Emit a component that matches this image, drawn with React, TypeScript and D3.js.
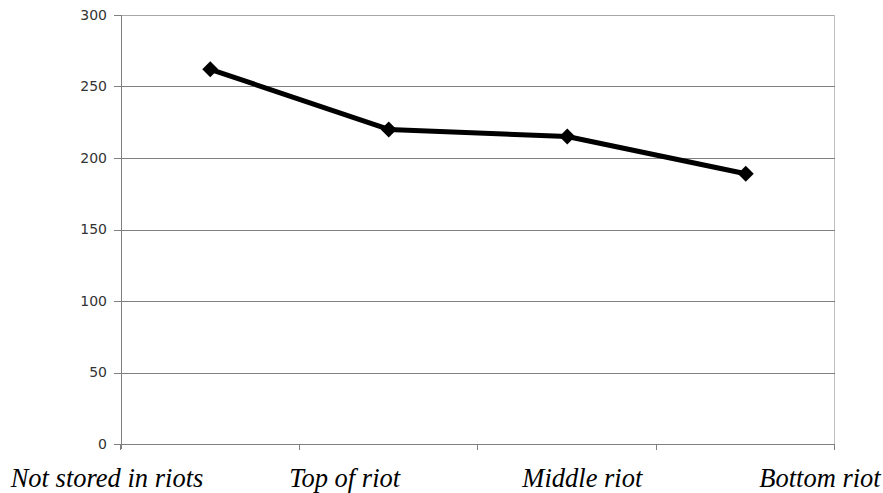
import React from "react";
import * as d3 from "d3";

const categories = ["Not stored in riots", "Top of riot", "Middle riot", "Bottom riot"];
const values = [262, 220, 215, 189];
const yTicks = [0, 50, 100, 150, 200, 250, 300];

export default function App() {
  const W = 883, H = 493;
  const left = 121, right = 835, top = 15, bottom = 444;
  const x = d3.scaleBand<string>().domain(categories).range([left, right]);
  const y = d3.scaleLinear().domain([0, 300]).range([bottom, top]);
  const labelX = d3.scalePoint<string>().domain(categories).range([107, 820]);
  const line = d3
    .line<number>()
    .x((_, i) => (x(categories[i]) as number) + x.bandwidth() / 2)
    .y((d) => y(d));
  const diamond = d3.symbol(d3.symbolSquare, 128)() as string;
  const boundaries = categories.map((c) => x(c) as number).concat([right]);

  return (
    <svg
      width={W}
      height={H}
      style={{ position: "absolute", left: 0, top: 0, background: "#fff" }}
    >
      <line x1={left} x2={right} y1={top + 0.5} y2={top + 0.5} stroke="#a8a8a8" />
      <line x1={right - 0.5} x2={right - 0.5} y1={top} y2={bottom} stroke="#c0c0c0" />
      {yTicks.map((t) => (
        <g key={t}>
          {t > 0 && t < 300 && (
            <line
              x1={left}
              x2={right}
              y1={Math.round(y(t)) + 0.5}
              y2={Math.round(y(t)) + 0.5}
              stroke="#808080"
            />
          )}
          <line
            x1={left - 7}
            x2={left}
            y1={Math.round(y(t)) + 0.5}
            y2={Math.round(y(t)) + 0.5}
            stroke="#808080"
          />
          <text
            x={107}
            y={y(t)}
            dy="0.35em"
            textAnchor="end"
            fontFamily="DejaVu Sans"
            fontSize={14}
            fill="#333"
          >
            {t}
          </text>
        </g>
      ))}
      <line x1={left + 0.5} x2={left + 0.5} y1={top} y2={bottom + 5} stroke="#808080" />
      <line x1={left} x2={right} y1={bottom + 0.5} y2={bottom + 0.5} stroke="#808080" />
      {boundaries.map((b, i) => (
        <line
          key={i}
          x1={Math.round(b) - 0.5}
          x2={Math.round(b) - 0.5}
          y1={bottom}
          y2={bottom + 6}
          stroke="#808080"
        />
      ))}
      <path d={line(values) as string} fill="none" stroke="#000" strokeWidth={5} strokeLinejoin="round" />
      {values.map((v, i) => (
        <path
          key={i}
          d={diamond}
          transform={`translate(${(x(categories[i]) as number) + x.bandwidth() / 2},${y(v)}) rotate(45)`}
          fill="#000"
        />
      ))}
      {categories.map((c) => (
        <text
          key={c}
          x={labelX(c)}
          y={487}
          textAnchor="middle"
          fontFamily="Liberation Serif"
          fontStyle="italic"
          fontSize={26.5}
          fill="#000"
        >
          {c}
        </text>
      ))}
    </svg>
  );
}
